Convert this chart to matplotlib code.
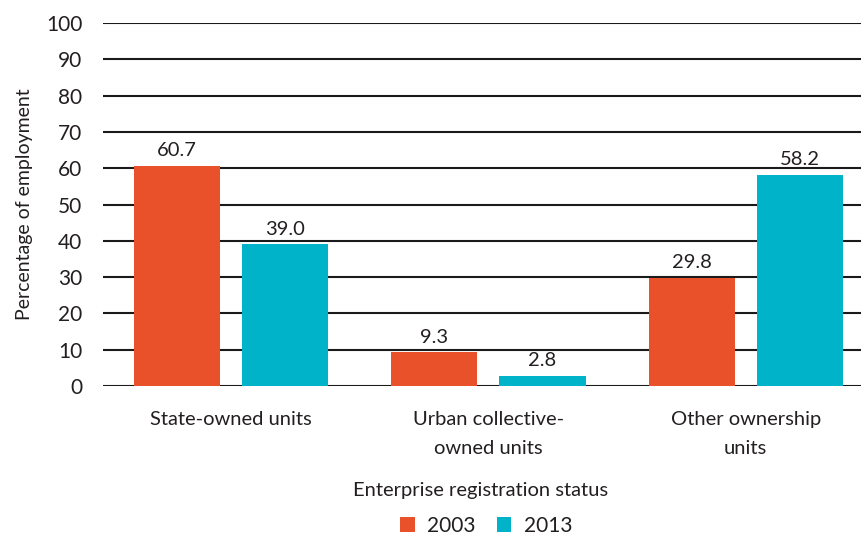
import matplotlib.pyplot as plt
import numpy as np

plt.rcParams['font.family'] = ['Lato', 'DejaVu Sans']

categories = ['State-owned units', 'Urban collective-\nowned units', 'Other ownership\nunits']
years = ['2003', '2013']
values_2003 = [60.7, 9.3, 29.8]
values_2013 = [39.0, 2.8, 58.2]
yticks = list(range(0, 101, 10))

orange = '#E9512B'
teal = '#00B3C8'
text_col = '#231F20'

fig = plt.figure(figsize=(8.62, 5.35), dpi=100)
ax = fig.add_axes([0.1195, 0.2785, 0.879, 0.6785])

x = np.arange(len(categories))
w = 0.335
off = 0.21
b1 = ax.bar(x - off, values_2003, w, color=orange, label=years[0], zorder=3)
b2 = ax.bar(x + off, values_2013, w, color=teal, label=years[1], zorder=3)

for bars in (b1, b2):
    for rect in bars:
        h = rect.get_height()
        ax.text(rect.get_x() + rect.get_width() / 2, h + 1.8, f'{h:.1f}',
                ha='center', va='bottom', fontsize=14.5, color=text_col)

ax.set_ylim(0, 100)
ax.set_xlim(-0.498, 2.447)
ax.set_yticks(yticks)
ax.yaxis.grid(True, color='#1a1a1a', linewidth=1.5, zorder=0)
ax.set_axisbelow(True)
for s in ax.spines.values():
    s.set_visible(False)
ax.tick_params(axis='both', length=0, labelsize=15, colors=text_col)
ax.tick_params(axis='y', pad=15)
ax.set_xticks(x)
ax.set_xticklabels(categories, fontsize=14.5, linespacing=1.87, color=text_col)
ax.tick_params(axis='x', pad=18)
ax.set_ylabel('Percentage of employment', fontsize=14, color=text_col, labelpad=9)

fig.text(0.558, 0.083, 'Enterprise registration status', ha='center', va='center',
         fontsize=14.5, color=text_col)
fig.legend(handles=[b1, b2], loc='center', bbox_to_anchor=(0.564, 0.017), ncol=2,
           frameon=False, fontsize=15, handlelength=0.7, handleheight=0.7,
           columnspacing=1.0, handletextpad=0.6, labelcolor=text_col)

fig.savefig('out.png', dpi=100)
